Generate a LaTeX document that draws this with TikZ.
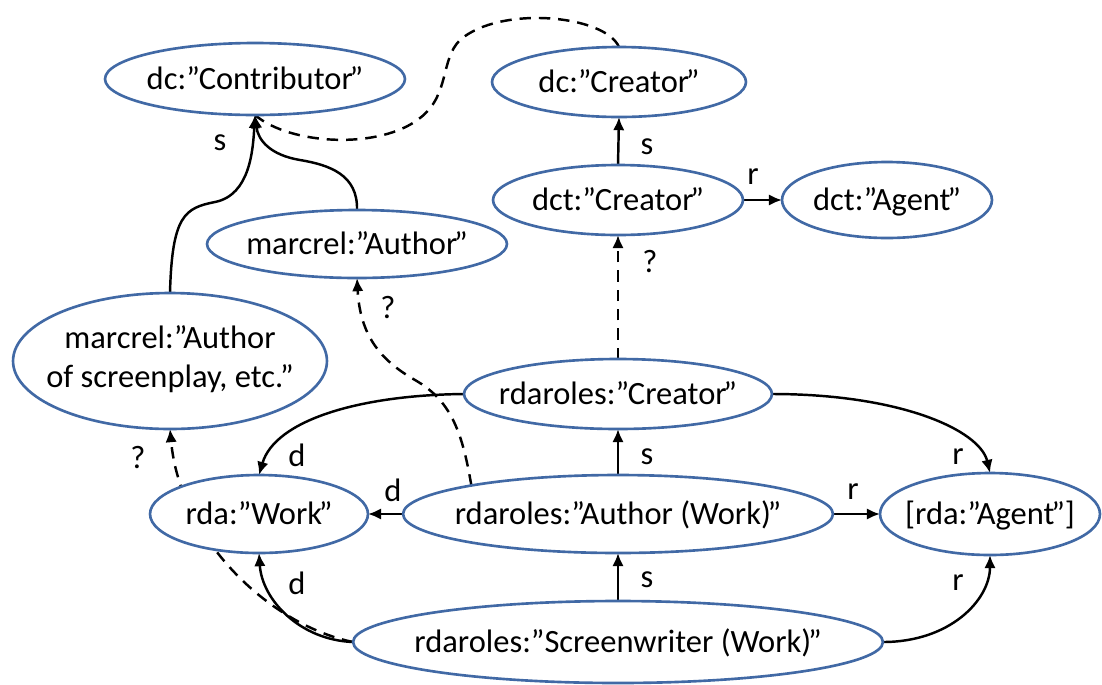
\documentclass[tikz,border=0pt]{standalone}
\usepackage{fontspec}
\setmainfont{Carlito}
\usetikzlibrary{shapes.geometric,arrows.meta}
\pgfdeclarelayer{bg}
\pgfsetlayers{bg,main}
\definecolor{nodeblue}{RGB}{65,105,165}
\newcommand\ctxt[1]{\makebox[0pt]{\raisebox{-0.32em}[0pt][0pt]{#1}}}
\newcommand\ctxtb[1]{\makebox[0pt]{\raisebox{-0.22em}[0pt][0pt]{#1}}}
\newcommand\cq{\kern-0.1em”}
\tikzset{
  ell/.style={ellipse, draw=nodeblue, line width=1.5pt, fill=white, inner sep=0pt, outer sep=0pt, font=\fontsize{18.5}{22}\selectfont},
  edgeln/.style={line width=1.4pt, draw=black},
  arr/.style={edgeln, -{Latex[length=7.5pt,width=6.5pt]}},
  dsh/.style={dash pattern=on 6.5pt off 4.5pt},
  lab/.style={font=\fontsize{18.5}{22}\selectfont, inner sep=0pt}
}
\begin{document}
\begin{tikzpicture}[x=0.02cm,y=-0.02cm]
\useasboundingbox (0,0) rectangle (1102,684);
% nodes
\node[ell, minimum width=6cm, minimum height=1.44cm] (contrib) at (255,79) {\ctxt{dc:”Contributor\cq}};
\node[ell, minimum width=5.08cm, minimum height=1.4cm] (dccreator) at (619,82) {\ctxt{dc:”Creator\cq}};
\node[ell, minimum width=5cm, minimum height=1.4cm] (dctcreator) at (618,200) {\ctxt{dct:”Creator\cq}};
\node[ell, minimum width=4.2cm, minimum height=1.52cm] (dctagent) at (887,200) {\ctxt{dct:”Agent\cq}};
\node[ell, minimum width=6cm, minimum height=1.36cm] (mauthor) at (357,244) {\ctxt{marcrel:”Author\cq}};
\node[ell, minimum width=6.28cm, minimum height=2.72cm] (mscreen) at (170,361) {\ctxtb{\begin{tabular}{@{}c@{}}marcrel:”Author\\of screenplay, etc.\cq\end{tabular}}};
\node[ell, minimum width=6.16cm, minimum height=1.4cm] (rcreator) at (618,394) {\ctxt{rdaroles:”Creator\cq}};
\node[ell, minimum width=4.36cm, minimum height=1.56cm] (work) at (259,514) {\ctxt{rda:”Work\cq}};
\node[ell, minimum width=8.6cm, minimum height=1.56cm] (rauthor) at (618,514) {\ctxt{rdaroles:”Author (Work)\cq}};
\node[ell, minimum width=4.4cm, minimum height=1.64cm] (ragent) at (990,514) {\ctxt{[rda:”Agent\cq]}};
\node[ell, minimum width=10.6cm, minimum height=1.64cm] (screen) at (618,642) {\ctxt{rdaroles:”Screenwriter (Work)\cq}};
% labels
\node[lab] (l1) at (220,143) {s};
\node[lab] (l2) at (647,147) {s};
\node[lab] (l3) at (753,177) {r};
\node[lab] (l4) at (650,262) {?};
\node[lab] (l5) at (388,308) {?};
\node[lab] (l6) at (138,457) {?};
\node[lab] (l7) at (297,455) {d};
\node[lab] (l8) at (393,490) {d};
\node[lab] (l9) at (297,583) {d};
\node[lab] (l10) at (647,457) {s};
\node[lab] (l11) at (647,580) {s};
\node[lab] (l12) at (958,457) {r};
\node[lab] (l13) at (853,492) {r};
\node[lab] (l14) at (958,583) {r};
% edges
\begin{pgfonlayer}{bg}
\draw[arr] (mscreen.north) .. controls (172,215) and (185,208) .. (215,202) .. controls (250,195) and (253,150) .. (contrib.south);
\draw[arr] (mauthor.north) .. controls (358,175) and (330,165) .. (300,160) .. controls (270,155) and (258,140) .. (contrib.south);
\draw[edgeln, dsh] (dccreator.north) .. controls (605,15) and (500,5) .. (460,40) .. controls (440,60) and (450,95) .. (420,118) .. controls (380,150) and (290,145) .. (contrib.south);
\draw[arr] (dctcreator.north) -- (dccreator.south);
\draw[arr] (dctcreator.east) -- (dctagent.west);
\draw[arr, dsh] (rcreator.north) -- (dctcreator.south);
\draw[arr, dsh] (rauthor.169.5) .. controls (462,430) and (450,400) .. (415,380) .. controls (380,360) and (360,335) .. (mauthor.south);
\draw[arr, dsh] (screen.west) .. controls (270,625) and (180,540) .. (mscreen.south);
\draw[arr] (rcreator.west) .. controls (360,395) and (275,420) .. (work.north);
\draw[arr] (rauthor.west) -- (work.east);
\draw[arr] (rauthor.north) -- (rcreator.south);
\draw[arr] (screen.north) -- (rauthor.south);
\draw[arr] (screen.west) .. controls (300,640) and (262,600) .. (work.south);
\draw[arr] (rcreator.east) .. controls (900,394) and (980,430) .. (ragent.north);
\draw[arr] (rauthor.east) -- (ragent.west);
\draw[arr] (screen.east) .. controls (950,642) and (990,600) .. (ragent.south);
\end{pgfonlayer}
\end{tikzpicture}
\end{document}
